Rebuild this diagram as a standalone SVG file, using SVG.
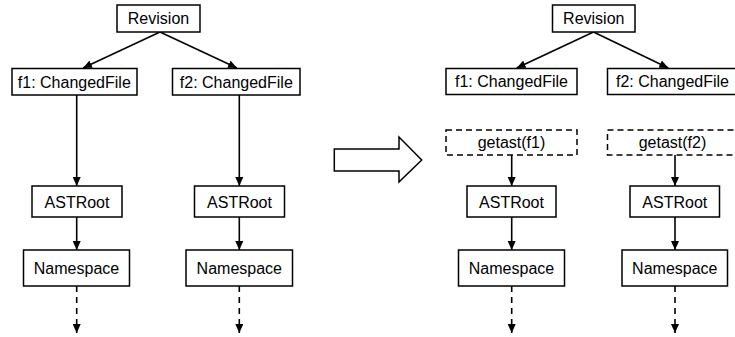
<svg xmlns="http://www.w3.org/2000/svg" width="735" height="337" viewBox="0 0 735 337">
<style>
.box{fill:#fff;stroke:#000;stroke-width:1.5}
.dbox{fill:#fff;stroke:#000;stroke-width:1.5;stroke-dasharray:6,4}
.t{font-family:"Liberation Sans",Arial,sans-serif;font-size:16px;fill:#000;text-anchor:middle}
.c{stroke:#000;stroke-width:1.6;fill:none;marker-end:url(#ah)}
.d{stroke:#000;stroke-width:1.6;fill:none;stroke-dasharray:6,5;marker-end:url(#ah)}
</style>
<defs>
<marker id="ah" markerUnits="userSpaceOnUse" markerWidth="9" markerHeight="8" refX="9" refY="4" orient="auto">
<path d="M0,0 L9,4 L0,8 z" fill="#000"/>
</marker>
</defs>
<rect width="735" height="337" fill="#fff"/>
<g id="connectors">
<path class="c" d="M160,32 L83,68"/>
<path class="c" d="M160,32 L237,68"/>
<path class="c" d="M76.7,95 L76.7,186"/>
<path class="c" d="M239.3,95 L239.3,186"/>
<path class="c" d="M76.7,217 L76.7,250"/>
<path class="c" d="M239.3,217 L239.3,250"/>
<path class="d" d="M76.7,286 L76.7,333"/>
<path class="d" d="M239.3,286 L239.3,333"/>
<path class="c" d="M593.5,32 L516.7,68"/>
<path class="c" d="M593.5,32 L668.3,68"/>
<path class="c" d="M511.7,155 L511.7,186"/>
<path class="c" d="M675,155 L675,186"/>
<path class="c" d="M511.7,217 L511.7,250"/>
<path class="c" d="M675,217 L675,250"/>
<path class="d" d="M511.7,286 L511.7,333"/>
<path class="d" d="M675,286 L675,333"/>
</g>
<g id="big-arrow">
<polygon points="334.3,149 399,149 399,137 421.7,160 399,182 399,171 334.3,171" fill="#fff" stroke="#000" stroke-width="1.5"/>
</g>
<g id="revision-l"><rect class="box" x="117" y="5" width="83" height="27"/><text class="t" x="158.5" y="24">Revision</text></g>
<g id="f1-l"><rect class="box" x="12" y="68.5" width="125" height="26.5"/><text class="t" x="74.3" y="87.5">f1: ChangedFile</text></g>
<g id="f2-l"><rect class="box" x="172.5" y="68.5" width="127.5" height="26.5"/><text class="t" x="236.3" y="87.5">f2: ChangedFile</text></g>
<g id="astroot1-l"><rect class="box" x="32" y="186" width="90" height="31"/><text class="t" x="77" y="207.5">ASTRoot</text></g>
<g id="ns1-l"><rect class="box" x="23.5" y="250" width="106" height="36"/><text class="t" x="76.5" y="273.5">Namespace</text></g>
<g id="astroot2-l"><rect class="box" x="194.5" y="186" width="90" height="31"/><text class="t" x="239.5" y="207.5">ASTRoot</text></g>
<g id="ns2-l"><rect class="box" x="186" y="250" width="106.5" height="36"/><text class="t" x="239.3" y="273.5">Namespace</text></g>
<g id="revision-r"><rect class="box" x="552.5" y="5" width="82.5" height="27"/><text class="t" x="593.8" y="24">Revision</text></g>
<g id="f1-r"><rect class="box" x="446" y="68.5" width="131" height="26"/><text class="t" x="511.5" y="87.3">f1: ChangedFile</text></g>
<g id="f2-r"><rect class="box" x="607.5" y="68.5" width="130" height="26"/><text class="t" x="672.5" y="87.3">f2: ChangedFile</text></g>
<g id="getast1"><rect class="dbox" x="446" y="130" width="131" height="25"/><text class="t" x="511.5" y="148">getast(f1)</text></g>
<g id="getast2"><rect class="dbox" x="607.5" y="130" width="130" height="25"/><text class="t" x="672.5" y="148">getast(f2)</text></g>
<g id="astroot1-r"><rect class="box" x="467" y="186" width="89" height="31"/><text class="t" x="511.5" y="207.5">ASTRoot</text></g>
<g id="ns1-r"><rect class="box" x="458.5" y="250" width="106" height="36"/><text class="t" x="511.5" y="273.5">Namespace</text></g>
<g id="astroot2-r"><rect class="box" x="630" y="186" width="89.5" height="31"/><text class="t" x="674.8" y="207.5">ASTRoot</text></g>
<g id="ns2-r"><rect class="box" x="622" y="250" width="105.5" height="36"/><text class="t" x="674.8" y="273.5">Namespace</text></g>
</svg>
